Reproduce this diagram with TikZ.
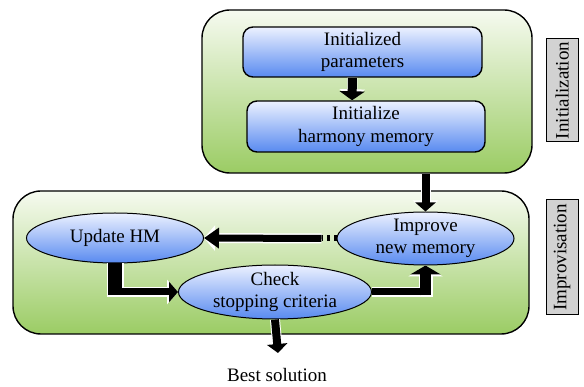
\documentclass[tikz,border=0pt]{standalone}
\usepackage{fontspec}
\setmainfont{Liberation Serif}
\usetikzlibrary{arrows.meta,shapes.geometric,calc}
\definecolor{gtop}{RGB}{246,250,240}
\definecolor{gbot}{RGB}{155,204,100}
\definecolor{btop}{RGB}{236,241,255}
\definecolor{bbot}{RGB}{88,138,240}
\definecolor{lab}{RGB}{210,210,210}
\begin{document}
\begin{tikzpicture}[x=1pt,y=-1pt,
  every node/.style={font=\fontsize{19}{22.5}\selectfont},
  stage/.style={draw=black, line width=1.4pt, rounded corners=28pt, top color=gtop, bottom color=gbot, inner sep=0pt},
  rbox/.style={draw=black, line width=1.4pt, rounded corners=10pt, top color=btop, bottom color=bbot, align=center, inner sep=0pt},
  oval/.style={ellipse, draw=black, line width=1pt, top color=btop, bottom color=bbot, inner sep=0pt},
  tag/.style={draw=black, line width=1pt, fill=lab, rotate=90, inner sep=0pt},
  blk/.style={draw=black, line width=7pt, -{Triangle[width=20pt,length=9pt]},
    preaction={draw=white, line width=10pt, -{Triangle[width=25pt,length=11pt]}}},
  halo/.style={draw=white},
  ink/.style={draw=black}
]
\useasboundingbox (0,0) rectangle (584,387);
% stages
\node[stage, minimum width=330pt, minimum height=163pt] (top) at (367,91.5) {};
\node[rbox, minimum width=239pt, minimum height=50pt] (p1) at (362.5,52) {Initialized\\parameters};
\node[rbox, minimum width=238pt, minimum height=51pt] (p2) at (366,126.5) {Initialize\\harmony memory};
\node[stage, minimum width=516pt, minimum height=143pt] (bot) at (271,262.5) {};
\node[oval, minimum width=177pt, minimum height=50pt, label={center:Update HM}] (upd) at (115,238) {};
\node[oval, minimum width=177pt, minimum height=53pt, label={[align=center]center:Improve\\new memory}] (imp) at (425.5,238.5) {};
\node[oval, minimum width=193pt, minimum height=54pt, label={[align=center]center:Check\\stopping criteria}] (chk) at (275,292) {};
\node (best) at (277,375.5) {Best solution};
\node[tag, minimum width=103pt, minimum height=32pt] (t1) at (562,90.5) {Initialization};
\node[tag, minimum width=115pt, minimum height=32pt] (t2) at (562,257.5) {Improvisation};
% straight connectors
\draw[blk, line width=9pt, -{Triangle[width=25pt,length=9pt]}] ([xshift=-10pt]p1.south) -- ([xshift=-14pt]p2.north);
\draw[blk, line width=8pt] (top.south -| imp.north) -- (imp.north);
\coordinate (g) at ($(imp.west)+(-15,0)$);
\draw[blk, -{Triangle[width=20pt,length=15pt]}] (g) -- (upd.east);
\draw[line width=6pt, dash pattern=on 3pt off 4pt] (imp.west) -- (g);
\coordinate (bt) at (278,353);
\draw[blk, line width=8pt] (chk.south) -- (bt);
% L-shaped connectors: halo pass
\coordinate (c1) at (upd.south |- chk.west);
\coordinate (c2) at (imp.south |- chk.east);
\draw[halo, line width=17pt] (upd.south) -- ([yshift=-5pt]c1);
\draw[halo, line width=10pt, -{Triangle[width=24pt,length=11pt]}] ([xshift=7pt]c1) -- (chk.west);
\draw[halo, line width=10pt] (chk.east) -- ([xshift=7pt]c2);
\draw[halo, line width=14pt, -{Triangle[width=34pt,length=11pt]}] ([yshift=-5pt]c2) -- (imp.south);
% ink pass
\draw[ink, line width=14pt] (upd.south) -- ([yshift=-3.5pt]c1);
\draw[ink, line width=7pt, -{Triangle[width=20pt,length=9pt]}] ([xshift=7pt]c1) -- (chk.west);
\draw[ink, line width=7pt] (chk.east) -- ([xshift=5.5pt]c2);
\draw[ink, line width=11pt, -{Triangle[width=30pt,length=9pt]}] ([yshift=-3.5pt]c2) -- (imp.south);
\end{tikzpicture}
\end{document}
